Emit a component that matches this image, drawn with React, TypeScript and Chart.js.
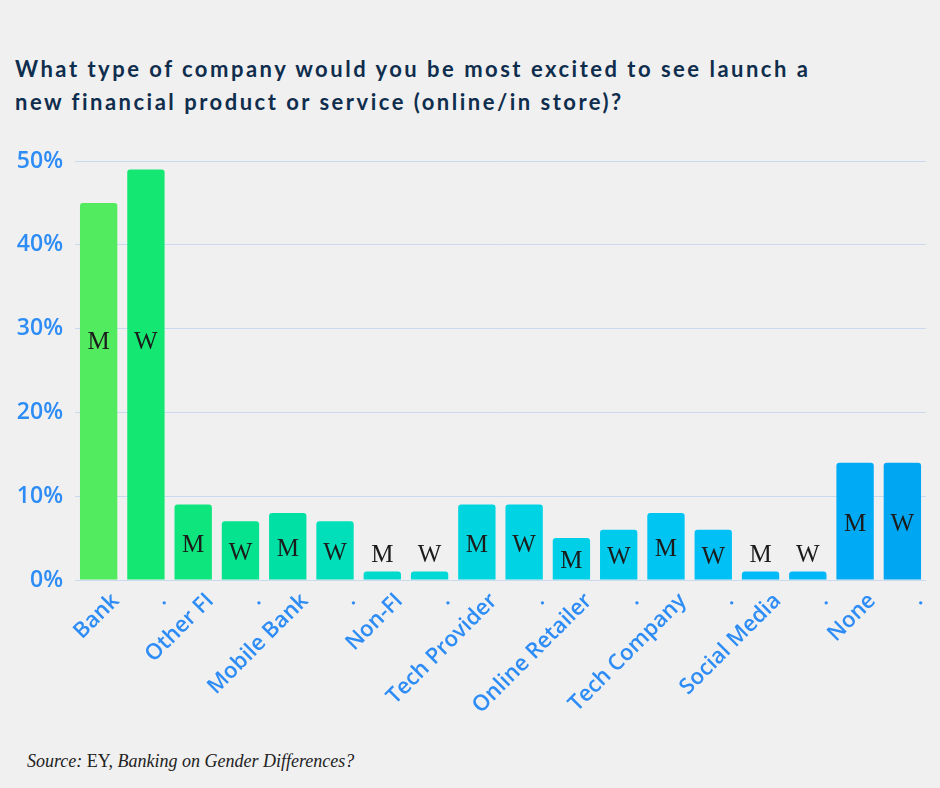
import React, { useEffect, useRef } from "react";
import { Chart, registerables } from "chart.js";

Chart.register(...registerables);

const GROUPS = [
  "Bank",
  "Other FI",
  "Mobile Bank",
  "Non-FI",
  "Tech Provider",
  "Online Retailer",
  "Tech Company",
  "Social Media",
  "None",
];
const MEN = [45, 9, 8, 1, 9, 5, 8, 1, 14];
const WOMEN = [49, 7, 7, 1, 9, 6, 6, 1, 14];
const SERIES_TAGS = ["M", "W"];
const Y_TICKS = [0, 10, 20, 30, 40, 50];
const BAR_COLORS = [
  "#52ea5e", "#14e872",
  "#0ee57c", "#05e38e",
  "#00e0a4", "#00dfba",
  "#00dacc", "#00d9d6",
  "#00d5df", "#00d3e3",
  "#00cfe8", "#00cbec",
  "#00c5f2", "#00c0f6",
  "#00bbf8", "#00b7f8",
  "#00aaf4", "#00a6f2",
];
const TITLE_LINES = [
  "What type of company would you be most excited to see launch a",
  "new financial product or service (online/in store)?",
];

const labels: string[] = [];
const values: number[] = [];
const tags: string[] = [];
GROUPS.forEach((g, i) => {
  labels.push(g, ".");
  values.push(MEN[i], WOMEN[i]);
  tags.push(SERIES_TAGS[0], SERIES_TAGS[1]);
});

const tagPlugin = {
  id: "tagPlugin",
  afterDatasetsDraw(chart: any) {
    const meta = chart.getDatasetMeta(0);
    const y = chart.scales.y;
    const ctx = chart.ctx;
    ctx.save();
    ctx.font = '25px "Liberation Serif"';
    ctx.fillStyle = "#1b1b1b";
    ctx.textAlign = "center";
    ctx.textBaseline = "middle";
    meta.data.forEach((bar: any, i: number) => {
      const v = values[i];
      let py: number;
      if (v <= 2) py = bar.y - 16;
      else if (v > 30) py = y.getPixelForValue(28.4);
      else py = (bar.y + bar.base) / 2 + 3;
      ctx.fillText(tags[i], bar.x, py);
    });
    ctx.restore();
  },
};

export default function App() {
  const ref = useRef<HTMLCanvasElement>(null);
  useEffect(() => {
    document.body.style.margin = "0";
    const chart = new Chart(ref.current!, {
      type: "bar",
      data: {
        labels,
        datasets: [
          {
            data: values,
            backgroundColor: BAR_COLORS,
            borderRadius: { topLeft: 3, topRight: 3, bottomLeft: 0, bottomRight: 0 },
            borderSkipped: "bottom",
            barPercentage: 0.79,
            categoryPercentage: 1,
          },
        ],
      },
      options: {
        animation: false,
        responsive: false,
        maintainAspectRatio: false,
        layout: { padding: { top: 31, right: 14, left: 0, bottom: 0 } },
        plugins: { legend: { display: false }, tooltip: { enabled: false } },
        scales: {
          x: {
            grid: { display: false },
            border: { display: false },
            afterFit: (s: any) => {
              s.height = 150;
            },
            ticks: {
              autoSkip: false,
              maxRotation: 45,
              minRotation: 45,
              color: "#2d8cf5",
              font: { family: "Open Sans", size: 22, weight: 600 },
              padding: 0,
              labelOffset: 17,
            },
          },
          y: {
            min: 0,
            max: 50,
            afterFit: (s: any) => {
              s.width = 75;
            },
            afterBuildTicks: (s: any) => {
              s.ticks = Y_TICKS.map((v) => ({ value: v }));
            },
            grid: { color: "#c9d9ee", lineWidth: 1, drawTicks: false },
            border: { display: false },
            ticks: {
              color: "#2d8cf5",
              padding: 12,
              font: { family: "Open Sans", size: 23, weight: 600 },
              callback: (v: any) => v + "%",
            },
          },
        },
      },
      plugins: [tagPlugin],
    });
    return () => chart.destroy();
  }, []);

  return (
    <div
      style={{
        position: "relative",
        width: 940,
        height: 788,
        background: "#f0f0f0",
        overflow: "hidden",
      }}
    >
      <div
        style={{
          position: "absolute",
          left: 15,
          top: 52,
          fontFamily: "Lato",
          fontWeight: 700,
          fontSize: 22,
          letterSpacing: 2.5,
          lineHeight: "33px",
          color: "#0f2d4d",
          whiteSpace: "nowrap",
        }}
      >
        {TITLE_LINES.map((l, i) => (
          <div key={i}>{l}</div>
        ))}
      </div>
      <canvas
        ref={ref}
        width={940}
        height={600}
        style={{ position: "absolute", left: 0, top: 130, width: 940, height: 600 }}
      />
      <div
        style={{
          position: "absolute",
          left: 27,
          top: 751,
          fontFamily: "Liberation Serif",
          fontSize: 18,
          color: "#222",
          whiteSpace: "nowrap",
        }}
      >
        <i>Source:</i> EY, <i>Banking on Gender Differences?</i>
      </div>
    </div>
  );
}
